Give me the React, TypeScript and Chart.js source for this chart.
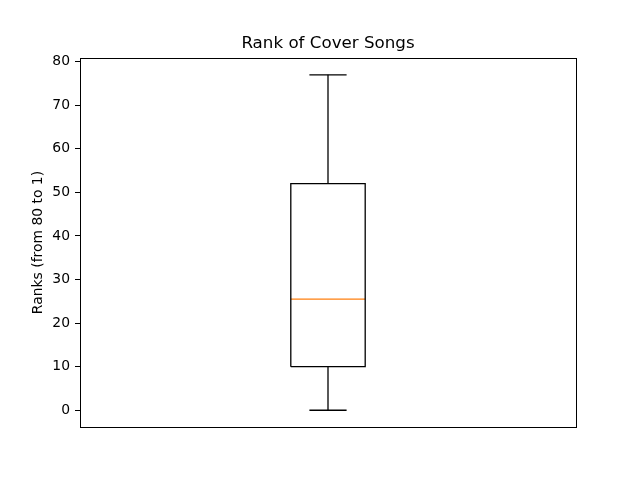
import React, { useEffect, useRef } from "react";
import { Chart, registerables } from "chart.js";

Chart.register(...registerables);

// Box-plot statistics (ranks of cover songs)
const whiskerLow: number[] = [0];
const quartile1: number[] = [10];
const medians: number[] = [25.5];
const quartile3: number[] = [52];
const whiskerHigh: number[] = [77];
const positions: number[] = [1];
const yTicks: number[] = [0, 10, 20, 30, 40, 50, 60, 70, 80];

const BOX_W = 0.15;
const CAP_W = 0.075;
const FONT = "'DejaVu Sans', sans-serif";

const frame = {
  id: "frame",
  afterDatasetsDraw(chart: any) {
    const { ctx, chartArea } = chart;
    ctx.save();
    ctx.strokeStyle = "#000";
    ctx.lineWidth = 1;
    ctx.strokeRect(
      Math.round(chartArea.left) + 0.5,
      Math.round(chartArea.top) + 0.5,
      Math.round(chartArea.right - chartArea.left),
      Math.round(chartArea.bottom - chartArea.top)
    );
    ctx.restore();
  },
};

function buildDatasets() {
  const ds: any[] = [];
  const line = (data: any[], color: string) => ({
    data,
    showLine: true,
    borderColor: color,
    borderWidth: 1.3,
    pointRadius: 0,
    fill: false,
    tension: 0,
  });
  positions.forEach((p, i) => {
    const l = p - BOX_W / 2;
    const r = p + BOX_W / 2;
    ds.push(
      line(
        [
          { x: l, y: quartile1[i] },
          { x: r, y: quartile1[i] },
          { x: r, y: quartile3[i] },
          { x: l, y: quartile3[i] },
          { x: l, y: quartile1[i] },
        ],
        "#000"
      )
    );
    ds.push(line([{ x: p, y: quartile1[i] }, { x: p, y: whiskerLow[i] }], "#000"));
    ds.push(line([{ x: p, y: quartile3[i] }, { x: p, y: whiskerHigh[i] }], "#000"));
    ds.push(
      line([{ x: p - CAP_W / 2, y: whiskerLow[i] }, { x: p + CAP_W / 2, y: whiskerLow[i] }], "#000")
    );
    ds.push(
      line([{ x: p - CAP_W / 2, y: whiskerHigh[i] }, { x: p + CAP_W / 2, y: whiskerHigh[i] }], "#000")
    );
    ds.push(line([{ x: l, y: medians[i] }, { x: r, y: medians[i] }], "#ff7f0e"));
  });
  return ds;
}

export default function App() {
  const ref = useRef<HTMLCanvasElement>(null);
  useEffect(() => {
    if (!ref.current) return;
    const lo = Math.min(...whiskerLow);
    const hi = Math.max(...whiskerHigh);
    const margin = (hi - lo) * 0.05;
    const chart = new Chart(ref.current, {
      type: "scatter",
      data: { datasets: buildDatasets() },
      plugins: [frame],
      options: {
        animation: false,
        responsive: false,
        layout: { padding: { left: 0, right: 64, top: 0, bottom: 53 } },
        plugins: {
          legend: { display: false },
          tooltip: { enabled: false },
          title: {
            display: true,
            fullSize: false,
            text: "Rank of Cover Songs",
            color: "#000",
            font: { family: FONT, size: 16.7, weight: "normal" },
            padding: { top: 34, bottom: 4 },
          },
        },
        scales: {
          x: {
            type: "linear",
            min: 0.5,
            max: 1.5,
            display: false,
          },
          y: {
            type: "linear",
            min: lo - margin,
            max: hi + margin,
            afterBuildTicks: (scale: any) => {
              scale.ticks = yTicks.map((v) => ({ value: v }));
            },
            afterFit: (scale: any) => {
              scale.width = 80;
            },
            grid: {
              drawOnChartArea: false,
              drawTicks: true,
              tickLength: 5,
              tickColor: "#000",
              tickWidth: 1,
            },
            border: { display: false },
            ticks: {
              color: "#000",
              padding: 5,
              font: { family: FONT, size: 13.9 },
              callback: (v: any) => String(v),
            },
            title: {
              display: true,
              text: "Ranks (from 80 to 1)",
              color: "#000",
              font: { family: FONT, size: 13.9 },
              padding: { top: 30, bottom: 0 },
            },
          },
        },
      },
    });
    return () => chart.destroy();
  }, []);
  return (
    <div style={{ position: "fixed", left: 0, top: 0, width: 640, height: 480, background: "#fff" }}>
      <canvas ref={ref} width={640} height={480} />
    </div>
  );
}
